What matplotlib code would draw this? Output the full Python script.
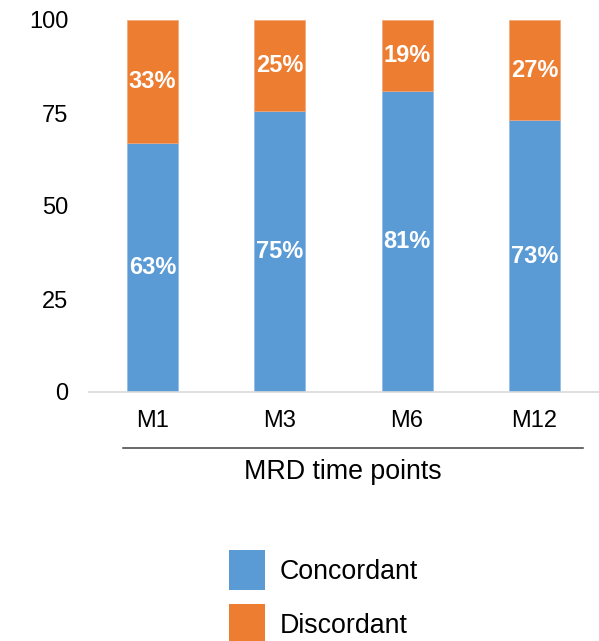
import matplotlib
matplotlib.use('Agg')
import matplotlib.pyplot as plt
from matplotlib.lines import Line2D
from matplotlib.patches import Patch

plt.rcParams['font.family'] = ['Liberation Sans', 'DejaVu Sans']

time_points = ['M1', 'M3', 'M6', 'M12']
concordant = [67, 75.5, 81, 73]
discordant = [33, 24.5, 19, 27]
concordant_labels = ['63%', '75%', '81%', '73%']
discordant_labels = ['33%', '25%', '19%', '27%']

blue = '#5B9BD5'
orange = '#ED7D31'

fig = plt.figure(figsize=(5.99, 6.41), dpi=100)
ax = fig.add_axes([89 / 599, 1 - 392 / 641, 509 / 599, 372 / 641])

x = range(len(time_points))
b1 = ax.bar(x, concordant, width=0.4, color=blue, edgecolor='#8fbbe6', linewidth=0.5)
b2 = ax.bar(x, discordant, width=0.4, bottom=concordant, color=orange,
            edgecolor='#f2a877', linewidth=0.5)
ax.bar_label(b1, labels=concordant_labels, label_type='center', color='white',
             fontsize=17, fontweight='bold')
ax.bar_label(b2, labels=discordant_labels, label_type='center', color='white',
             fontsize=17, fontweight='bold')

ax.set_xlim(-0.5, 3.5)
ax.set_ylim(0, 100)
ax.set_yticks([0, 25, 50, 75, 100])
ax.set_xticks(list(x))
ax.set_xticklabels(time_points)
ax.tick_params(axis='both', length=0, labelsize=17)
ax.tick_params(axis='y', pad=15)
ax.tick_params(axis='x', pad=13)
for side in ['left', 'right', 'top']:
    ax.spines[side].set_visible(False)
ax.spines['bottom'].set_color('#d9d9d9')
ax.spines['bottom'].set_linewidth(1.2)

# separator line under the category labels
fig.add_artist(Line2D([123 / 599, 583 / 599], [1 - 448 / 641, 1 - 448 / 641],
                      color='#404040', linewidth=1.1))
fig.text(343 / 599, 1 - 472 / 641, 'MRD time points', ha='center', va='center', fontsize=19.3)

handles = [Patch(facecolor=blue), Patch(facecolor=orange)]
fig.legend(handles, ['Concordant', 'Discordant'], loc='upper left',
           bbox_to_anchor=(229 / 599, 1 - 550 / 641), frameon=False, fontsize=19.3,
           borderpad=0, borderaxespad=0, handlelength=1.34, handleheight=1.92,
           handletextpad=0.55, labelspacing=0.52)

fig.savefig('out.png', dpi=100)
